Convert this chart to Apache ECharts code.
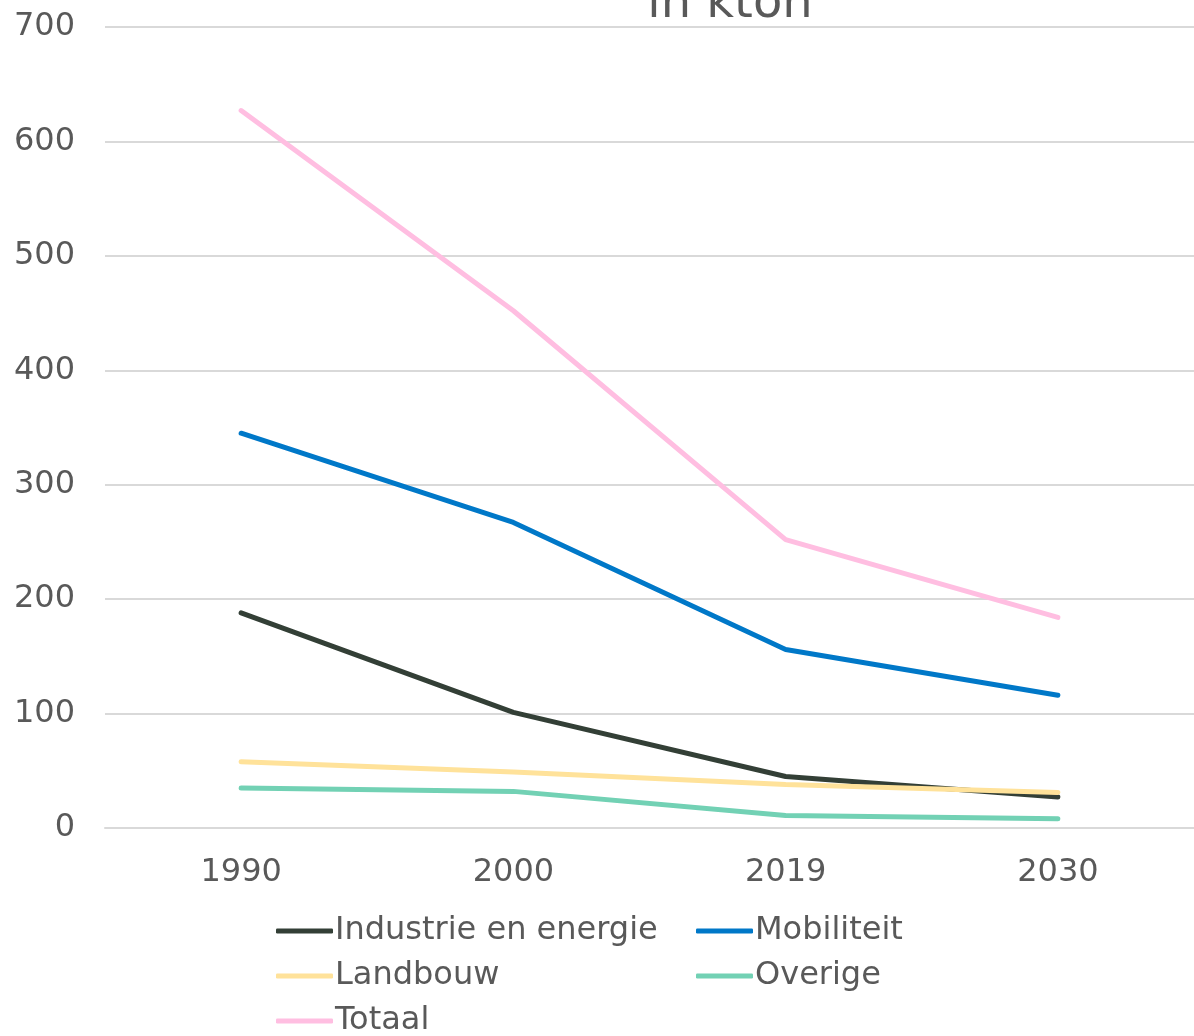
<!DOCTYPE html>
<html>
<head>
<meta charset="utf-8">
<script src="https://cdn.jsdelivr.net/npm/echarts@6/dist/echarts.min.js"></script>
<style>
  html, body { margin: 0; padding: 0; background: #fff; }
  #chart { width: 1194px; height: 1036px; }
</style>
</head>
<body>
<div id="chart"></div>
<script>
const years = ['1990', '2000', '2019', '2030']
const industrie = [188, 101, 45, 27]
const mobiliteit = [345, 267, 156, 116]
const landbouw = [58, 49, 38, 31]
const overige = [35, 32, 11, 8]
const totaal = [627, 452, 252, 184]

const textColor = '#595959'
const font = 'DejaVu Sans'

function line(name, data, color) {
  return {
    name: name,
    type: 'line',
    data: data,
    symbol: 'none',
    lineStyle: { width: 5, color: color, cap: 'round' },
    itemStyle: { color: color }
  }
}

const chart = echarts.init(document.getElementById('chart'))
const legendText = { color: textColor, fontSize: 32, fontFamily: font, padding: [0, 0, 0, -3] }
chart.setOption({
  animation: false,
  title: {
    text: 'in kton',
    left: 725,
    textAlign: 'center',
    top: -24,
    textStyle: { color: textColor, fontSize: 48, fontWeight: 'normal', fontFamily: font }
  },
  grid: { left: 105, right: 0, top: 27, bottom: 208 },
  legend: [
    {
      data: ['Industrie en energie', 'Landbouw', 'Totaal'],
      orient: 'vertical',
      left: 271,
      top: 910,
      height: 200,
      itemWidth: 57,
      itemHeight: 5,
      itemGap: 13,
      icon: 'roundRect',
      textStyle: legendText
    },
    {
      data: ['Mobiliteit', 'Overige'],
      orient: 'vertical',
      left: 691,
      top: 910,
      height: 200,
      itemWidth: 57,
      itemHeight: 5,
      itemGap: 13,
      icon: 'roundRect',
      textStyle: legendText
    }
  ],
  xAxis: {
    type: 'category',
    data: years,
    boundaryGap: true,
    axisLine: { lineStyle: { color: '#d9d9d9', width: 2 } },
    axisTick: { show: false },
    axisLabel: { color: textColor, fontSize: 32, fontFamily: font, margin: 29 }
  },
  yAxis: {
    type: 'value',
    min: 0,
    max: 700,
    interval: 100,
    axisLine: { show: false },
    axisTick: { show: false },
    splitLine: { lineStyle: { color: '#d9d9d9', width: 2 } },
    axisLabel: { color: textColor, fontSize: 32, fontFamily: font, margin: 30 }
  },
  series: [
    line('Industrie en energie', industrie, '#333f36'),
    line('Mobiliteit', mobiliteit, '#0078c8'),
    line('Landbouw', landbouw, '#ffe29a'),
    line('Overige', overige, '#72d1b4'),
    line('Totaal', totaal, '#ffbee1')
  ]
})
</script>
</body>
</html>
